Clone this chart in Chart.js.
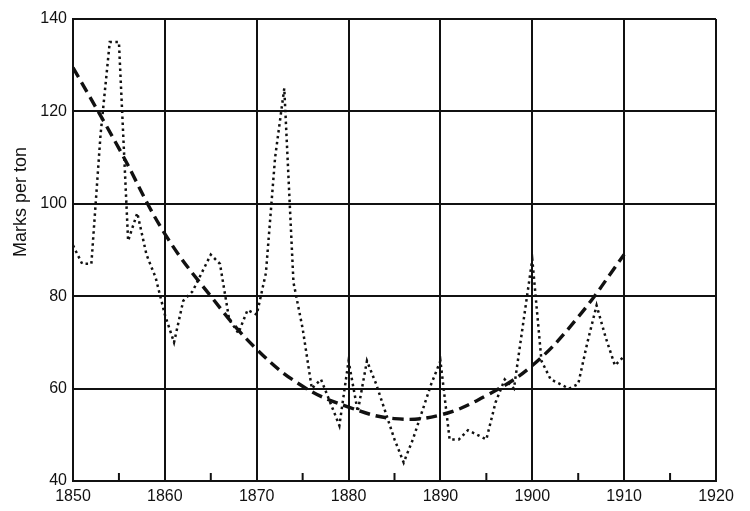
<!DOCTYPE html>
<html>
<head>
<meta charset="utf-8">
<title>Marks per ton</title>
<script src="https://cdn.jsdelivr.net/npm/chart.js@4/dist/chart.umd.min.js"></script>
<style>
  html, body { margin: 0; padding: 0; background: #fff; }
  .wrap { width: 750px; height: 511px; }
</style>
</head>
<body>
<div class="wrap"><canvas id="price-chart" width="750" height="511"></canvas></div>
<script>
'use strict';

// ── Data ──────────────────────────────────────────────────────
const years = [
  1850, 1851, 1852, 1853, 1854, 1855, 1856, 1857, 1858, 1859,
  1860, 1861, 1862, 1863, 1864, 1865, 1866, 1867, 1868, 1869,
  1870, 1871, 1872, 1873, 1874, 1875, 1876, 1877, 1878, 1879,
  1880, 1881, 1882, 1883, 1884, 1885, 1886, 1887, 1888, 1889,
  1890, 1891, 1892, 1893, 1894, 1895, 1896, 1897, 1898, 1899,
  1900, 1901, 1902, 1903, 1904, 1905, 1906, 1907, 1908, 1909,
  1910
];
const prices = [
   91,  87,  87, 115, 135, 135,  92,  98,  89,  84,
   76,  70,  79,  81,  85,  89,  87,  75,  72,  77,
   76,  85, 110, 125,  83,  73,  60,  62,  57,  52,
   66,  55,  66,  61,  55,  49,  44,  49,  55,  61,
   66,  49,  49,  51,  50,  49,  57,  62,  60,  74,
   88,  66,  62,  61,  60,  61,  70,  78,  71,  65,
   67
];
const trendYears  = [1850, 1855, 1860, 1865, 1870, 1875, 1880, 1885, 1890, 1895, 1900, 1905, 1910];
const trendValues = [129.5, 112, 93.5, 80, 68.5, 60.5, 56, 53.5, 54.3, 58.5, 65, 75.5, 89];

const xTicks = [1850, 1860, 1870, 1880, 1890, 1900, 1910, 1920];
const yTicks = [40, 60, 80, 100, 120, 140];
const axisTitle = 'Marks per ton';

const FONT = '"Liberation Sans", Arial, sans-serif';
const INK  = '#111';

// ── Plugins ───────────────────────────────────────────────────
// short tick marks standing up from the bottom axis, half way between decades
const halfTicks = {
  id: 'halfTicks',
  afterDraw(chart) {
    const { ctx, scales: { x, y } } = chart;
    const base = y.getPixelForValue(yTicks[0]);
    ctx.save();
    ctx.strokeStyle = INK;
    ctx.lineWidth = 2;
    for (let i = 0; i < xTicks.length - 1; i++) {
      const px = x.getPixelForValue((xTicks[i] + xTicks[i + 1]) / 2);
      ctx.beginPath();
      ctx.moveTo(px, base);
      ctx.lineTo(px, base - 8);
      ctx.stroke();
    }
    ctx.restore();
  }
};

// y title sits above the middle of the axis in the original
const yTitle = {
  id: 'yTitle',
  afterDraw(chart) {
    const { ctx } = chart;
    ctx.save();
    ctx.translate(21, 202);
    ctx.rotate(-Math.PI / 2);
    ctx.fillStyle = INK;
    ctx.font = '18px ' + FONT;
    ctx.textAlign = 'center';
    ctx.textBaseline = 'middle';
    ctx.fillText(axisTitle, 0, 0);
    ctx.restore();
  }
};

// ── Chart ─────────────────────────────────────────────────────
new Chart(document.getElementById('price-chart'), {
  type: 'line',
  data: {
    datasets: [
      {
        label: 'Price',
        data: years.map((yr, i) => ({ x: yr, y: prices[i] })),
        borderColor: INK,
        borderWidth: 2.5,
        borderDash: [2.5, 3.5],
        tension: 0,
        pointRadius: 0,
        fill: false
      },
      {
        label: 'Trend',
        data: trendYears.map((yr, i) => ({ x: yr, y: trendValues[i] })),
        borderColor: INK,
        borderWidth: 3.4,
        borderDash: [11, 6],
        tension: 0.4,
        pointRadius: 0,
        fill: false
      }
    ]
  },
  options: {
    responsive: false,
    animation: false,
    layout: { padding: { top: 19, right: 34, left: 0, bottom: 0 } },
    plugins: {
      legend: { display: false },
      tooltip: { enabled: false }
    },
    scales: {
      x: {
        type: 'linear',
        min: xTicks[0],
        max: xTicks[xTicks.length - 1],
        afterBuildTicks: axis => { axis.ticks = xTicks.map(v => ({ value: v })); },
        afterFit: axis => { axis.height = 30; },
        grid: { color: INK, lineWidth: 2, drawTicks: false },
        border: { color: INK, width: 2 },
        ticks: {
          color: INK,
          padding: 6,
          maxRotation: 0,
          font: { family: FONT, size: 16 },
          callback: v => String(v)
        }
      },
      y: {
        min: yTicks[0],
        max: yTicks[yTicks.length - 1],
        afterBuildTicks: axis => { axis.ticks = yTicks.map(v => ({ value: v })); },
        afterFit: axis => { axis.width = 73; },
        grid: { color: INK, lineWidth: 2, drawTicks: false },
        border: { color: INK, width: 2 },
        ticks: {
          color: INK,
          padding: 6,
          font: { family: FONT, size: 16 },
          callback: v => String(v)
        }
      }
    }
  },
  plugins: [halfTicks, yTitle]
});
</script>
</body>
</html>
